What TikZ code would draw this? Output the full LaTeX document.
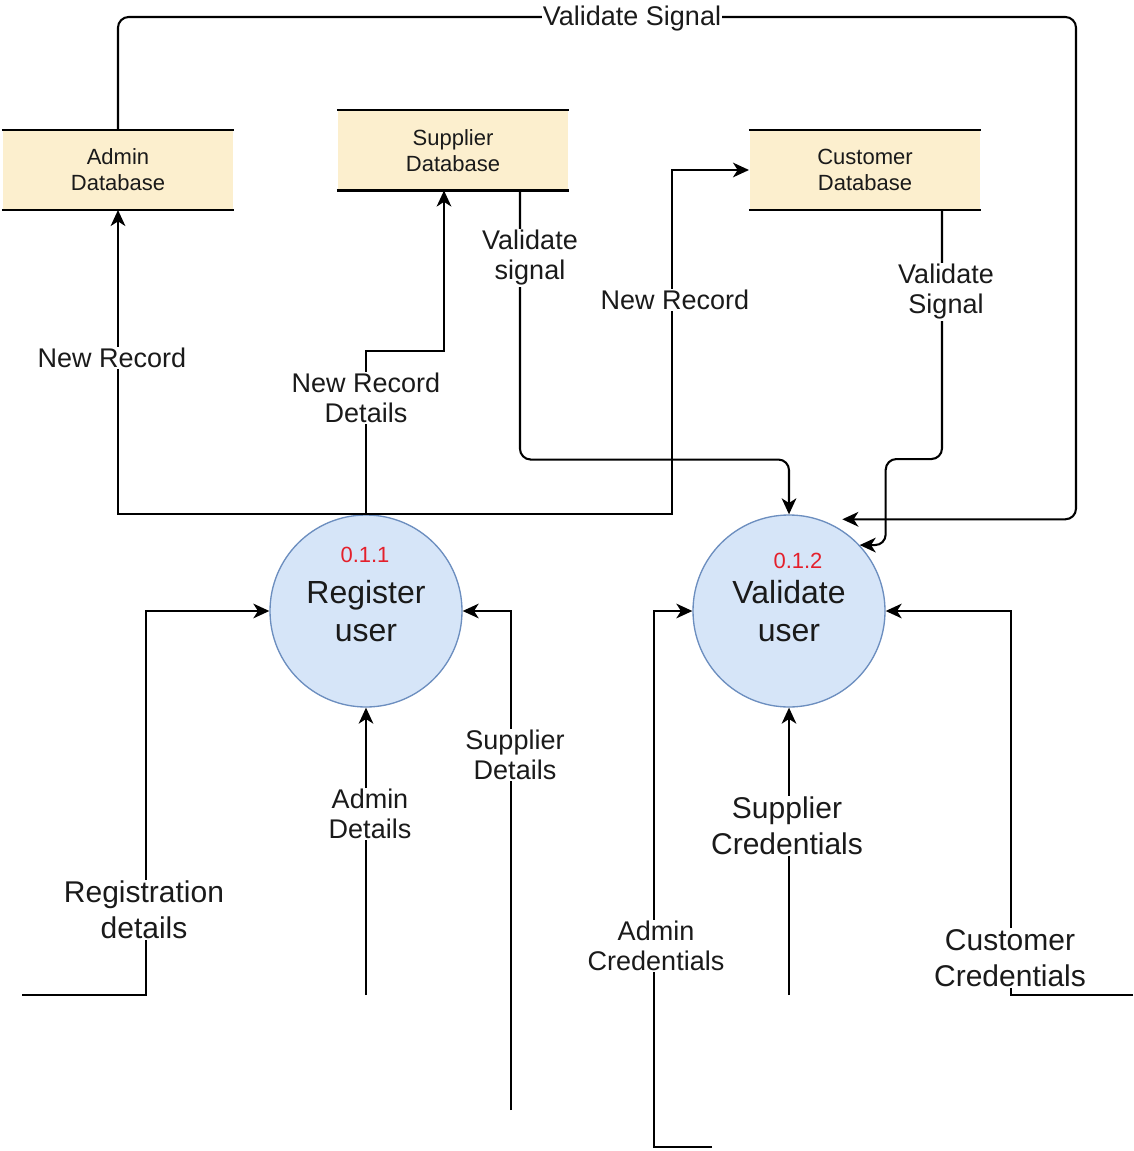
\documentclass[tikz,border=0pt]{standalone}
\usepackage{fontspec}
\setmainfont{Liberation Sans}
\usetikzlibrary{arrows.meta,calc}

\definecolor{dbfill}{RGB}{252,239,206}
\definecolor{procfill}{RGB}{214,229,248}
\definecolor{procline}{RGB}{108,142,191}
\definecolor{numred}{RGB}{228,32,44}
\definecolor{textgray}{RGB}{26,26,26}

\tikzset{every picture/.style={line width=1.55pt}}
\tikzset{
	flow/.style={-{Stealth[length=12pt,width=11pt,inset=3.5pt]}},
	datastore/.style={fill=dbfill, minimum width=172.5pt, minimum height=58.5pt, inner sep=0pt, align=center, text=textgray, font=\fontsize{16.5}{19.5}\selectfont},
	process/.style={circle, draw=procline, fill=procfill, line width=1pt, minimum size=144pt, inner sep=0pt, align=center, text=textgray, font=\fontsize{24}{28.5}\selectfont},
	procnum/.style={text=numred, font=\fontsize{16.5}{19}\selectfont},
	lbl/.style={fill=white, align=center, inner sep=1pt, text=textgray, font=\fontsize{20.25}{22.5}\selectfont},
	lblbig/.style={lbl, font=\fontsize{22.5}{27}\selectfont},
}

\begin{document}
\begin{tikzpicture}[x=0.75pt,y=0.75pt,yscale=-1,xscale=1]
	\useasboundingbox (0,0) rectangle (1133,1151);

	%Shape: Data stores
	\node[datastore] (admindb) at (118,170) {Admin\\Database};
	\node[datastore] (supdb) at (453,150.5) {Supplier\\Database};
	\node[datastore] (custdb) at (865,170) {Customer\\Database};
	\foreach \db in {admindb,supdb,custdb} {
		\draw (\db.north west) -- (\db.north east);
		\draw (\db.south west) -- (\db.south east);
	}

	%Shape: Processes
	\node[process] (reg) at (366,611) {Register\\user};
	\node[procnum] (regnum) at (365,555) {0.1.1};
	\node[process] (val) at (789,611) {Validate\\user};
	\node[procnum] (valnum) at (798,561) {0.1.2};

	%Free ends of the input flows
	\coordinate (regin) at (22,995);
	\coordinate (admin) at (366,995);
	\coordinate (supin) at (511,1110);
	\coordinate (admcred) at (712,1147);
	\coordinate (supcred) at (789,995);
	\coordinate (custcred) at (1133,995);

	%Straight Lines: register user to the databases
	\draw[flow] (reg.north) -| (admindb.south);
	\draw[flow] (reg.north) -- ($(reg.north)+(0,-163)$) -| ($(supdb.south)+(-9,0)$);
	\draw[flow] (reg.north) -| ($(custdb.west)+(-77,0)$) -- (custdb.west);

	%Straight Lines: databases to validate user
	\draw[flow, rounded corners=8pt] (admindb.north) |- (1076,17) |- ($(val.60)+(5,-8)$);
	\draw[flow, rounded corners=8pt] ($(supdb.south)+(67,0)$) -- ++(0,269) -| (val.north);
	\draw[flow, rounded corners=8pt] ($(custdb.south)+(77,0)$) -- ++(0,249) -| ($(val.43)+(26,0)$) -- (val.43);

	%Straight Lines: inputs
	\draw[flow] (regin) -| ($(reg.west)+(-123,0)$) -- (reg.west);
	\draw[flow] (admin) -- (reg.south);
	\draw[flow] (supin) |- (reg.east);
	\draw[flow] (admcred) -| ($(val.west)+(-38,0)$) -- (val.west);
	\draw[flow] (supcred) -- (val.south);
	\draw[flow] (custcred) -| ($(val.east)+(125,0)$) -- (val.east);

	% Text Node
	\node[lbl] (lblvs) at (632,19) {Validate Signal};
	\node[lbl] (lblnra) at (112,358) {New Record};
	\node[lbl] (lblnrd) at (366,398) {New Record\\Details};
	\node[lbl] (lblvsup) at (530,258) {Validate\\signal};
	\node[lbl] (lblnrc) at (675,300) {New Record};
	\node[lbl] (lblvcus) at (946,292) {Validate\\Signal};
	\node[lblbig] (lblreg) at (144,910) {Registration\\details};
	\node[lbl] (lbladm) at (370,814) {Admin\\Details};
	\node[lbl] (lblsup) at (515,755) {Supplier\\Details};
	\node[lblbig] (lblsupc) at (787,826) {Supplier\\Credentials};
	\node[lbl] (lbladmc) at (656,946) {Admin\\Credentials};
	\node[lblbig] (lblcusc) at (1010,958) {Customer\\Credentials};

\end{tikzpicture}
\end{document}
